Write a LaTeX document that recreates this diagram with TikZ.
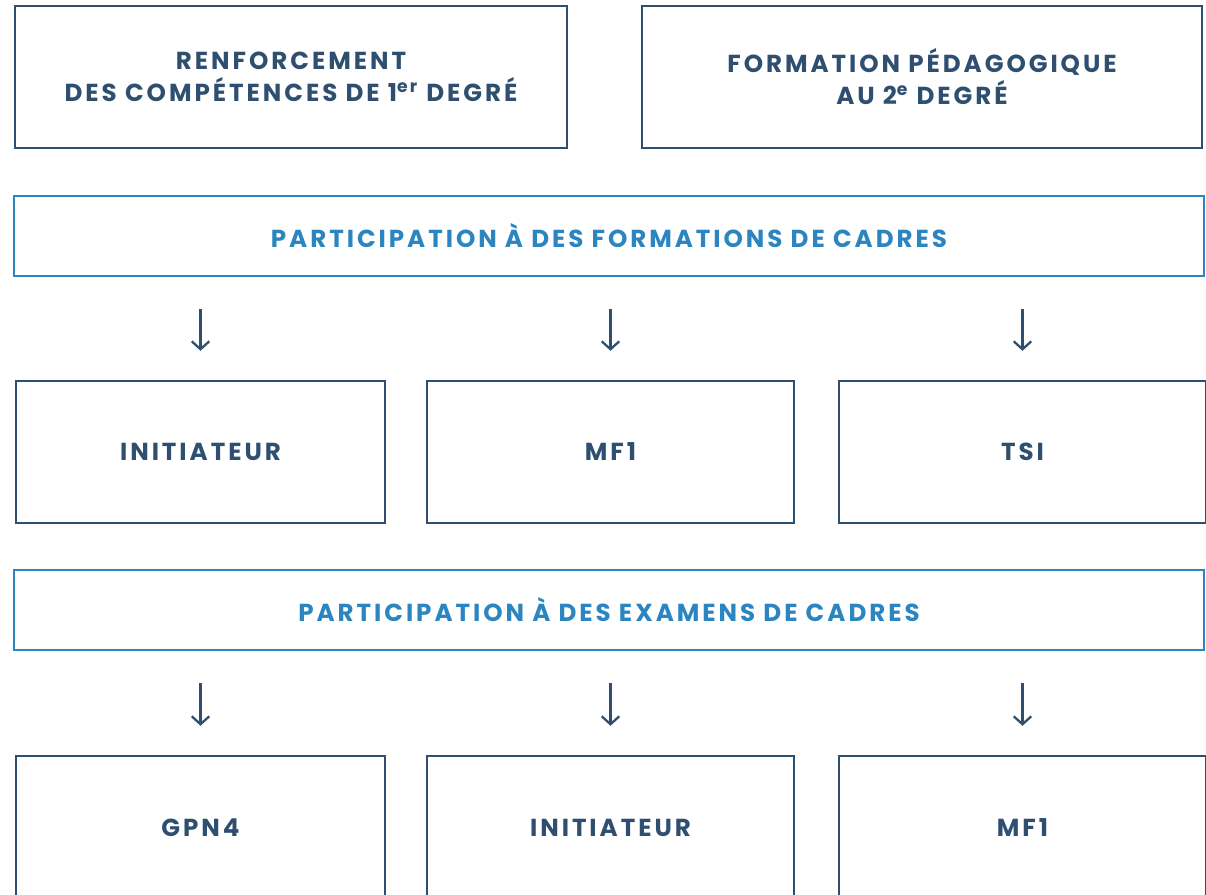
\documentclass[tikz,border=0pt]{standalone}
\usepackage{fontspec}
\setmainfont{Poppins}[LetterSpace=12]
\usepackage{tikz}
\usetikzlibrary{arrows.meta}
\definecolor{navy}{HTML}{2E4F70}
\definecolor{ffblue}{HTML}{2A85C0}
\tikzset{
  boxfont/.style={font=\bfseries\fontsize{14}{18.2}\selectfont},
  box/.style={draw=navy,line width=1.4pt,text=navy,align=center,boxfont,inner sep=0pt},
  bluebox/.style={box,draw=ffblue,text=ffblue},
  down/.style={draw=navy,line width=1.3pt,-{Straight Barb[length=4.5pt,width=10pt]},
    shorten <=0.64cm,shorten >=0.58cm}
}
\begin{document}
\begin{tikzpicture}[y=-1cm]

\useasboundingbox (0,0) rectangle (24.12,17.9);
\clip (0,0) rectangle (24.12,17.9);

% top row:
\node[box,minimum width=11.04cm,minimum height=2.84cm] (renf) at (5.82,1.54)
  {RENFORCEMENT\\DES COMPÉTENCES DE 1\textsuperscript{er} DEGRÉ};
\node[box,minimum width=11.2cm,minimum height=2.84cm] (peda) at (18.44,1.54)
  {FORMATION PÉDAGOGIQUE\\AU 2\textsuperscript{e} DEGRÉ};

% formations:
\node[bluebox,minimum width=23.8cm,minimum height=1.6cm] (form) at (12.18,4.72)
  {PARTICIPATION À DES FORMATIONS DE CADRES};
\node[box,minimum width=7.38cm,minimum height=2.84cm] (ini) at (4.01,9.04) {INITIATEUR};
\node[box,minimum width=7.34cm,minimum height=2.84cm] (mfa) at (12.21,9.04) {MF1};
\node[box,minimum width=7.34cm,minimum height=2.84cm] (tsi) at (20.45,9.04) {TSI};

% examens:
\node[bluebox,minimum width=23.8cm,minimum height=1.6cm] (exam) at (12.18,12.2)
  {PARTICIPATION À DES EXAMENS DE CADRES};
\node[box,minimum width=7.38cm,minimum height=3.6cm] (gpn) at (4.01,16.92) {};
\node[box,minimum width=7.34cm,minimum height=3.6cm] (inib) at (12.21,16.92) {};
\node[box,minimum width=7.34cm,minimum height=3.6cm] (mfb) at (20.45,16.92) {};
\path (gpn.north) +(0,1.46) node[text=navy,boxfont] {GPN4};
\path (inib.north) +(0,1.46) node[text=navy,boxfont] {INITIATEUR};
\path (mfb.north) +(0,1.46) node[text=navy,boxfont] {MF1};

% arrows:
\foreach \n in {ini,mfa,tsi}
  \draw[down] (form.south -| \n) -- (\n.north);
\foreach \n in {gpn,inib,mfb}
  \draw[down] (exam.south -| \n) -- (\n.north);

\end{tikzpicture}
\end{document}
